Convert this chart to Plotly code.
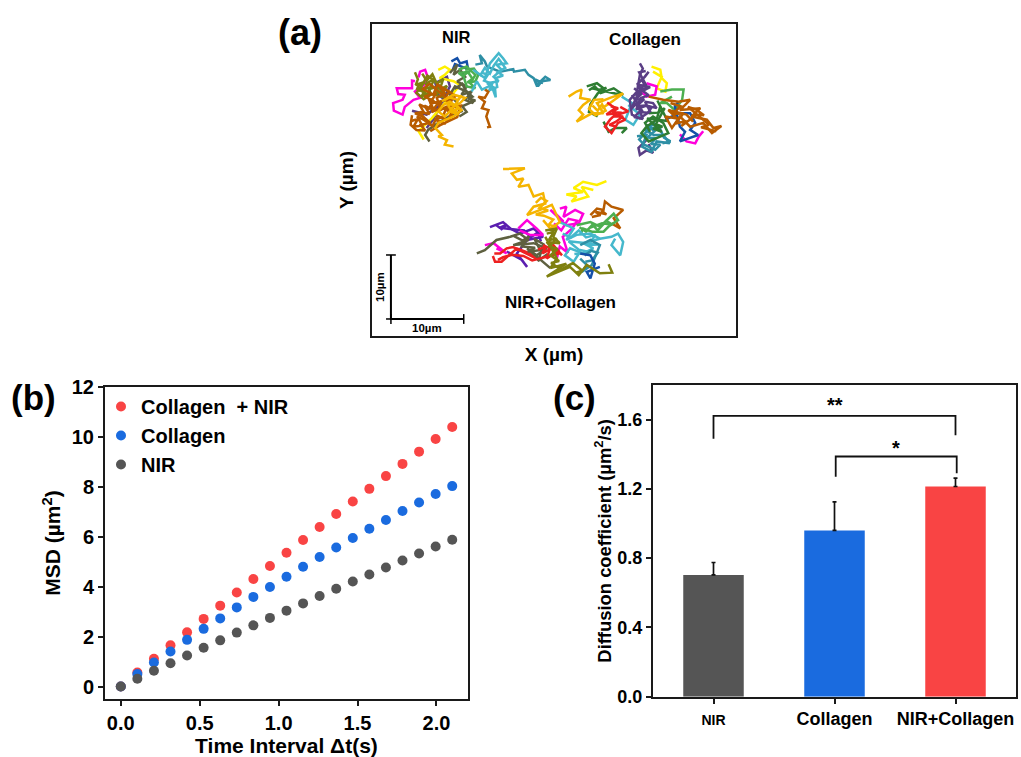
import plotly.graph_objects as go

W, H = 1021, 757
FONT = "Liberation Sans"
MAGENTA, OLIVE, BROWN, AMBER, DKOLIVE = "#FF00DC", "#7F8010", "#B85C00", "#F5B400", "#5E6040"
GREEN, DKGREEN, BLUE, PURPLE, GREYPURPLE = "#4CAF50", "#2E7D32", "#1450A8", "#5B1FB0", "#5A3E85"
TEAL, CYAN, RED, YELLOW = "#2E8FA5", "#45B8CC", "#EE2020", "#FFF000"

# ---------- panel (a): trajectories in micrometres ----------
nir_magenta = [(5.9,39.8),(5.5,39.9),(5.5,38.7),(3.4,38.7),(3.6,37.8),(4.5,37.7),(4.2,36.9),(2.9,36.4),(3.0,35.2),(4.2,34.6),(4.5,35.8),(5.7,36.9),(6.6,37.2),(5.9,38.2),(7.1,39.2),(7.7,40.3),(7.3,41.6),(6.6,41.3),(6.4,40.4)]
nir_purple = [(5.5,35.2),(7.5,34.6),(9.1,35.9),(10.0,36.9),(9.1,37.7),(8.7,39.5),(10.3,40.5),(10.7,39.0),(8.4,33.8),(7.5,32.5)]
nir_yellow = [(9.1,41.6),(10.0,42.1),(10.7,41.6),(10.0,40.8),(9.3,40.3),(11.2,39.8),(12.1,39.2),(10.4,37.0),(8.2,34.0),(6.4,32.0),(7.1,30.7)]
nir_blue = [(10.9,42.9),(11.7,43.4),(12.1,42.6),(13.0,42.9),(13.2,41.7),(12.3,42.1),(11.4,42.5),(11.1,41.6)]
nir_dkolive = [(10.7,41.1),(11.7,42.4),(11.2,40.8),(12.1,41.6),(12.8,40.5),(11.7,39.8),(13.0,39.0),(12.3,37.7),(13.7,38.2),(12.8,36.9),(13.9,36.4),(13.0,38.2),(11.4,39.0),(10.7,37.7),(11.7,36.4),(12.3,35.1),(11.0,34.6),(9.1,33.3),(7.7,32.2),(7.3,31.4),(7.9,30.4)]
nir_dkolive2 = [(11.3,38.6),(12.4,39.4),(12.9,38.3),(13.8,37.4),(13.2,37.1),(14.2,36.8),(12.4,35.9),(13.0,35.0),(12.0,34.3)]
nir_olive = [(5.9,41.2),(6.3,40.1),(6.0,39.2),(7.2,39.7),(6.4,38.3),(7.5,38.9),(6.8,37.4),(8.0,38.1),(7.4,39.4),(8.6,40.2),(7.9,38.6),(9.2,39.0),(8.5,37.6),(9.7,38.4),(8.8,39.7),(7.6,40.7),(6.8,39.0),(6.1,38.0),(7.1,37.0),(8.2,37.8),(9.9,37.3)]
nir_olive2 = [(6.9,41.0),(7.5,39.9),(8.3,40.9),(8.9,39.4),(9.8,40.2),(9.3,38.5),(10.3,39.1),(9.6,37.8),(8.9,38.5),(8.1,39.2),(7.7,37.6),(7.0,38.3),(6.5,39.5),(6.2,38.6),(7.3,38.0)]
nir_brown = [(5.5,34.5),(5.3,33.0),(6.1,32.2),(7.3,32.1),(6.7,33.0),(8.0,33.3),(7.0,34.3),(5.9,34.8),(7.1,35.0),(6.5,36.2),(7.8,35.5),(8.4,36.8),(7.2,37.4),(8.8,38.0),(8.0,36.3),(9.5,36.7),(9.1,35.1),(10.3,35.9),(9.7,34.2),(8.6,33.8),(10.0,33.2),(11.0,34.5),(10.4,36.4),(11.5,37.5),(10.1,38.5),(9.0,39.3),(8.4,37.7),(7.0,38.6),(7.9,39.4),(9.8,37.6),(11.0,35.7),(12.2,36.0),(11.7,34.2),(9.3,32.9),(8.0,32.0)]
nir_brown2 = [(15.5,38.5),(16.0,38.2),(15.5,37.2),(14.6,37.4),(15.5,36.6),(15.1,35.6),(16.0,35.3),(15.7,34.3),(16.2,32.7),(15.8,32.6)]
nir_brown3 = [(5.4,33.6),(6.3,33.9),(5.7,32.7),(6.9,32.9),(6.2,34.3),(7.4,33.6),(6.6,35.0),(7.9,34.7),(7.2,36.0),(8.5,35.3),(7.8,37.0),(9.0,36.3),(8.2,35.0),(9.4,35.6),(8.9,37.2),(10.0,37.9),(9.3,38.9),(10.6,38.2),(9.9,36.8),(11.0,37.0),(10.3,35.1),(11.3,36.2),(10.5,33.7),(9.0,34.4),(8.3,32.8),(7.1,33.8)]
nir_amber = [(10.0,36.9),(11.2,37.7),(12.8,37.2),(12.1,36.4),(10.9,35.6),(11.9,34.6),(10.7,35.1),(10.0,34.3),(9.1,35.1),(9.8,36.1),(10.7,36.6),(12.3,35.3),(11.2,34.3),(9.1,33.3),(8.7,32.5),(9.6,31.4),(9.1,31.2),(10.3,30.6),(10.0,29.9),(11.2,29.6)]
nir_amber2 = [(9.6,36.7),(10.6,37.3),(11.8,36.9),(12.3,37.6),(11.4,36.1),(10.4,36.2),(11.0,35.0),(12.0,35.8),(11.2,34.8)]
nir_green = [(11.9,41.6),(13.0,42.1),(14.2,40.8),(13.5,39.5),(14.2,38.7),(13.0,39.0),(12.6,40.5),(11.9,41.1),(13.5,41.3)]
nir_green2 = [(12.4,40.6),(13.2,41.2),(13.8,40.2),(13.1,39.6),(14.2,39.8),(14.6,40.8),(14.0,41.8),(12.8,41.6)]
nir_teal = [(14.2,42.4),(15.1,42.6),(14.8,43.9),(15.5,42.9),(15.8,42.1),(17.6,41.3),(19.4,41.7),(19.5,41.3),(21.0,41.6),(21.5,40.8),(22.2,40.3),(22.6,39.2),(23.8,40.5),(24.5,40.0),(23.3,39.8),(22.8,39.0),(22.4,40.1),(23.5,39.5)]
nir_cyan = [(13.9,41.6),(15.5,40.3),(16.2,42.6),(17.4,44.2),(18.0,43.4),(18.5,42.6),(17.1,42.4),(17.8,41.6),(16.7,40.5),(17.4,39.8),(15.8,39.5),(16.9,38.7),(17.0,37.3),(16.4,39.2),(15.1,38.5),(14.4,39.8),(13.7,38.2)]
nir_cyan2 = [(15.0,41.2),(15.9,40.8),(15.4,39.9),(16.5,39.4),(16.1,38.4),(17.2,38.9),(17.0,40.3),(18.0,40.7),(17.3,41.2),(18.3,41.9),(17.4,43.3),(16.7,42.2),(16.2,41.0),(15.5,41.9),(14.8,40.6)]

col_dkgreen = [(29.5,39.0),(30.9,39.5),(31.8,38.7),(31.3,37.9),(33.2,38.7),(34.5,37.7),(33.4,37.9),(32.0,38.2),(30.2,38.7)]
col_dkgreen5 = [(29.8,38.4),(30.6,39.0),(31.1,38.4),(32.2,38.8),(31.0,37.9),(30.0,36.2),(29.8,35.0),(31.0,34.3)]
col_amber = [(27.0,37.4),(28.1,38.2),(28.8,38.5),(28.6,37.2),(30.0,36.9),(29.0,36.1),(28.4,35.3),(29.0,34.6),(28.1,33.5),(30.2,34.8),(31.8,34.8),(30.9,36.4),(32.7,37.2),(34.5,37.9),(32.7,36.4),(31.6,35.6)]
col_amber2 = [(30.3,36.0),(31.0,35.2),(31.6,36.2),(32.1,35.2),(30.7,34.5),(29.8,35.5),(30.5,36.9),(31.8,37.0)]
col_dkgreen2 = [(31.8,33.5),(32.5,31.9),(33.4,32.5),(35.0,32.5),(34.3,31.7)]
col_red = [(32.3,36.5),(33.4,35.6),(32.2,34.6),(33.6,34.8),(32.7,33.8),(32.0,32.7),(32.9,31.7),(33.8,33.3),(34.8,33.8),(33.8,34.6),(35.2,35.1),(34.1,35.8)]
col_red2 = [(32.8,35.9),(33.8,35.6),(33.0,35.0),(34.3,34.9),(33.2,34.3),(34.5,34.3),(33.4,33.4),(32.6,33.0),(33.6,32.7)]
col_cyan = [(34.3,37.4),(35.7,36.4),(34.8,33.8),(35.9,33.0),(36.8,34.6),(35.2,36.1)]
col_yellow = [(38.4,42.1),(39.6,41.6),(39.8,40.3),(40.5,39.5),(40.3,38.2),(39.1,38.7),(39.8,40.5),(38.6,41.3)]
col_magenta = [(37.7,39.5),(39.1,39.0),(38.9,37.7),(37.7,37.4),(36.8,38.5)]
col_magenta2 = [(42.3,31.5),(43.2,30.4),(44.4,30.1),(44.9,31.2),(45.5,32.0)]
col_green = [(39.6,38.2),(41.2,38.5),(42.8,38.5),(42.6,36.9),(41.6,35.3),(40.5,36.4),(39.6,36.4),(41.2,37.4)]
col_teal = [(36.4,31.2),(37.7,31.4),(37.1,29.6),(38.4,28.8),(39.1,30.4),(40.9,30.1),(40.0,31.4),(38.7,31.4),(37.5,32.2),(38.9,33.3)]
col_teal2 = [(37.7,33.0),(38.8,32.0),(37.8,31.0),(39.0,30.9),(38.3,30.0),(39.6,29.9),(38.9,29.1),(37.4,29.9),(36.7,30.7),(38.0,32.3),(39.4,32.8),(40.1,31.0),(41.0,30.4),(39.9,30.1)]
col_greypurple2 = [(37.7,30.6),(36.6,29.4),(36.8,28.3),(37.7,29.0),(38.6,28.6),(38.0,30.0)]
col_dkgreen3 = [(39.6,35.9),(39.1,33.8),(37.7,32.7),(37.0,31.7),(38.0,30.4),(39.6,31.2),(40.7,31.7),(40.0,33.3),(38.6,34.3),(37.5,33.3),(38.2,31.9)]
col_dkgreen4 = [(38.0,34.8),(39.3,34.9),(40.2,35.6),(39.0,33.1),(39.9,32.7),(38.6,32.4),(39.8,31.9),(38.5,33.3),(37.8,34.0),(40.6,33.6),(39.2,36.8)]
col_blue = [(40.3,33.8),(42.1,34.8),(43.7,34.8),(44.4,33.3),(43.7,32.2),(44.8,31.4),(42.3,30.4),(43.0,31.9),(42.3,32.7),(41.6,35.9),(42.1,36.6)]
col_brown = [(38.0,37.4),(40.0,36.9),(42.1,36.6),(43.7,36.9),(42.3,35.3),(45.1,35.6),(43.9,34.3),(46.0,33.8),(46.9,32.5),(48.0,32.8),(46.7,31.7),(45.5,33.3),(43.7,32.7),(42.3,34.3),(41.2,32.5),(40.3,34.3),(41.9,34.0),(40.7,35.3),(43.2,34.6),(44.1,33.5)]
col_brown2 = [(41.0,36.4),(42.4,35.9),(41.3,34.7),(42.8,34.8),(41.7,33.2),(43.2,33.6),(42.5,32.8),(44.6,34.6),(45.6,34.5),(44.5,35.4),(43.4,35.8),(46.3,33.0),(45.2,32.6),(47.3,32.0)]
col_greypurple = [(36.8,42.6),(37.2,41.8),(36.8,40.8),(36.6,39.5),(36.4,38.2),(35.4,36.9),(35.7,34.6),(36.8,34.0),(38.2,35.1),(37.5,36.6),(38.6,36.4),(39.1,35.6),(37.7,36.0),(36.3,35.4),(36.9,37.2),(38.0,37.6),(36.5,38.9),(37.7,38.5),(37.1,40.0),(38.0,41.3),(37.5,40.5),(36.4,39.3),(38.2,38.9),(35.8,37.5),(37.2,35.0)]
col_greypurple3 = [(36.0,38.7),(37.0,37.8),(36.1,36.9),(37.4,37.0),(36.3,35.9),(37.5,36.0),(38.4,35.7),(37.9,34.9),(36.7,35.0),(36.0,34.2),(37.2,33.9),(36.4,36.4),(35.6,35.5),(36.9,38.7),(37.6,39.3),(36.7,41.2),(37.6,41.4)]

both_purple = [(16.2,17.0),(18.0,17.8),(19.0,16.8),(20.3,16.0),(22.2,16.8),(23.5,15.5),(21.3,15.0),(19.9,12.9),(21.3,10.8),(20.6,11.9),(18.5,13.2)]
both_purple2 = [(17.0,17.4),(17.8,16.7),(18.5,17.4),(17.5,16.9),(20.9,16.5),(21.8,15.4),(22.8,16.2),(23.2,14.8)]
both_magenta2 = [(20.1,16.8),(21.3,18.1),(22.6,16.8),(23.5,15.8),(21.7,15.8),(20.3,16.5)]
both_magenta3 = [(15.5,14.2),(16.7,14.5),(18.5,12.9),(17.1,13.7)]
both_magenta4 = [(25.0,17.6),(26.0,16.5),(27.0,18.3),(28.2,18.0),(27.5,16.8),(26.2,15.5),(26.9,13.0),(25.8,14.0),(25.4,12.2)]
both_red = [(16.8,12.9),(17.6,12.9),(18.5,13.7),(19.4,13.9),(22.6,12.1),(21.7,12.9),(19.9,13.7),(17.8,11.6),(16.9,11.6),(16.6,12.5)]
both_red2 = [(23.5,14.2),(25.4,13.2),(24.0,12.1),(24.7,14.5),(26.1,12.6)]
both_red3 = [(22.8,13.5),(23.9,14.0),(23.4,12.9),(25.0,13.9),(25.7,12.9),(24.7,12.6),(22.0,11.8),(20.8,12.5),(19.2,12.7),(18.0,12.3),(17.3,11.9)]
both_dkolive = [(14.4,12.9),(15.5,13.4),(17.1,15.0),(19.0,15.5),(20.3,16.0),(21.5,15.0),(19.4,14.2),(22.2,14.5),(24.0,13.7),(22.6,12.6),(21.3,13.7),(23.5,11.6),(24.5,10.6)]
both_dkolive2 = [(19.5,15.6),(20.7,14.9),(21.6,15.6),(20.6,14.0),(22.4,13.8),(21.4,13.2),(23.1,13.4),(22.3,15.2),(23.6,14.3),(22.8,11.7),(24.1,12.8)]
both_yellow = [(32.2,24.2),(30.9,23.6),(29.0,24.1),(27.7,23.1),(29.0,22.5),(26.7,22.1),(28.1,21.8),(27.4,21.0),(29.7,21.8),(28.8,23.3),(30.4,22.8)]
both_magenta = [(25.8,19.9),(26.7,20.2),(26.3,18.6),(27.9,19.7),(29.0,19.1),(28.4,17.6),(26.7,17.3),(24.5,19.7),(25.4,18.9),(26.3,17.9)]
both_brown = [(30.0,18.9),(30.9,19.9),(31.8,19.7),(32.0,21.0),(32.9,20.2),(34.5,19.7),(33.2,18.4),(34.1,16.8),(32.9,17.6)]
both_brown2 = [(30.2,18.6),(31.4,18.9),(30.7,19.4),(32.2,19.0),(31.5,19.6)]
both_green = [(28.1,17.3),(30.0,17.8),(31.3,17.1),(33.2,19.1),(33.8,18.1),(32.5,17.1),(31.8,16.3),(30.2,16.3),(29.0,16.8),(28.6,15.8)]
both_green2 = [(28.5,17.0),(29.4,16.3),(30.3,17.4),(31.0,16.5),(32.2,18.0),(33.0,17.4),(31.6,17.6),(29.9,16.9)]
both_cyan = [(25.8,17.8),(27.7,16.8),(26.7,15.0),(28.1,15.8),(30.0,16.0),(31.3,15.2),(29.0,14.5),(30.4,13.7),(29.0,12.9),(27.2,13.7),(26.5,12.6),(27.7,11.6),(28.6,13.2)]
both_cyan2 = [(31.3,15.2),(32.9,15.5),(33.8,16.0),(34.5,14.7),(34.1,12.6),(32.9,14.2),(33.4,15.2)]
both_cyan3 = [(26.2,16.0),(27.3,15.4),(28.4,16.5),(29.4,15.4),(30.7,15.8),(29.7,14.2),(31.1,14.3),(28.1,14.7),(27.0,14.8),(28.4,13.5),(30.0,13.1),(27.8,12.8)]
both_teal = [(28.6,12.1),(29.5,11.1),(28.8,10.0),(30.2,11.1),(31.3,14.2),(30.0,15.0),(28.6,14.2)]
both_teal2 = [(29.2,12.6),(30.1,13.3),(31.0,13.0),(30.2,11.8),(29.3,11.6)]
both_blue = [(28.6,12.9),(30.0,12.6),(30.6,11.3),(30.0,9.0),(29.5,10.0),(31.3,10.8)]
both_amber = [(18.0,26.1),(21.0,26.2),(19.2,25.4),(19.9,24.4),(20.8,24.6),(20.1,23.3),(21.5,23.6),(22.2,21.8),(23.5,22.3),(23.8,20.7),(22.2,20.2),(21.3,18.9),(23.1,19.7),(24.7,20.5),(25.8,17.8),(24.5,16.8),(23.5,18.1)]
both_amber2 = [(22.5,20.8),(23.2,21.6),(24.0,21.1),(23.0,20.0),(24.2,19.6),(22.5,19.0),(23.6,18.8),(24.9,18.2),(24.3,17.4),(25.4,17.0)]
both_olive = [(23.8,16.5),(25.4,16.8),(24.9,15.5),(25.8,14.5),(24.0,14.7),(24.9,13.4),(23.8,15.5),(25.4,12.1),(24.5,10.6),(26.7,11.3),(24.0,9.3),(27.2,10.8),(28.4,9.5),(29.5,11.1),(31.3,9.8),(33.0,9.9),(32.5,11.2)]
both_olive2 = [(24.0,16.0),(25.0,16.3),(24.3,15.0),(25.4,15.2),(24.4,14.0),(25.5,13.6),(24.5,12.6),(25.7,11.7),(24.6,11.4),(26.0,10.4),(27.6,11.4),(28.9,10.2),(28.0,9.9)]

tracks = [
    (nir_purple, GREYPURPLE), (nir_yellow, YELLOW), (nir_magenta, MAGENTA), (nir_blue, BLUE), (nir_dkolive, DKOLIVE), (nir_dkolive2, DKOLIVE),
    (nir_olive, OLIVE), (nir_olive2, OLIVE), (nir_brown, BROWN), (nir_brown2, BROWN), (nir_brown3, BROWN), (nir_amber, AMBER), (nir_amber2, AMBER),
    (nir_green, GREEN), (nir_green2, GREEN), (nir_teal, TEAL), (nir_cyan, CYAN), (nir_cyan2, CYAN),
    (col_dkgreen, DKGREEN), (col_dkgreen5, DKGREEN), (col_amber, AMBER), (col_amber2, AMBER), (col_dkgreen2, DKGREEN), (col_cyan, CYAN), (col_red, RED), (col_red2, RED),
    (col_yellow, YELLOW), (col_magenta, MAGENTA), (col_magenta2, MAGENTA), (col_green, GREEN), (col_greypurple2, GREYPURPLE),
    (col_teal, TEAL), (col_teal2, TEAL), (col_dkgreen3, DKGREEN), (col_dkgreen4, DKGREEN), (col_blue, BLUE), (col_brown, BROWN), (col_brown2, BROWN),
    (col_greypurple, GREYPURPLE), (col_greypurple3, GREYPURPLE),
    (both_purple, PURPLE), (both_purple2, PURPLE), (both_magenta2, MAGENTA), (both_magenta3, MAGENTA), (both_red, RED), (both_dkolive, DKOLIVE), (both_dkolive2, DKOLIVE),
    (both_yellow, YELLOW), (both_magenta, MAGENTA), (both_magenta4, MAGENTA), (both_red2, RED), (both_red3, RED), (both_brown, BROWN), (both_brown2, BROWN),
    (both_green, GREEN), (both_green2, GREEN), (both_cyan, CYAN), (both_cyan2, CYAN), (both_cyan3, CYAN), (both_teal, TEAL), (both_teal2, TEAL), (both_blue, BLUE),
    (both_amber, AMBER), (both_amber2, AMBER), (both_olive, OLIVE), (both_olive2, OLIVE),
]
scale_x = [2.6, 2.6, 12.6]
scale_y = [12.66, 2.66, 2.66]

# ---------- panel (b) ----------
dt = [0, 0.105, 0.21, 0.315, 0.42, 0.525, 0.63, 0.735, 0.84, 0.945, 1.05, 1.155, 1.26, 1.365, 1.47, 1.575, 1.68, 1.785, 1.89, 1.995, 2.1]
msd_both = [0, 0.56, 1.11, 1.65, 2.17, 2.71, 3.24, 3.77, 4.31, 4.83, 5.36, 5.87, 6.39, 6.91, 7.41, 7.92, 8.43, 8.92, 9.41, 9.92, 10.4]
msd_collagen = [0, 0.50, 0.96, 1.40, 1.87, 2.31, 2.73, 3.17, 3.59, 3.99, 4.40, 4.80, 5.19, 5.57, 5.95, 6.32, 6.67, 7.03, 7.37, 7.71, 8.03]
msd_nir = [0, 0.31, 0.63, 0.93, 1.24, 1.55, 1.85, 2.16, 2.45, 2.75, 3.04, 3.33, 3.63, 3.92, 4.21, 4.49, 4.77, 5.05, 5.33, 5.61, 5.88]

# ---------- panel (c) ----------
groups = [1, 2, 3]
group_labels = ["<span style='font-size:14px'>NIR</span>", "Collagen", "NIR+Collagen"]
diffusion = [0.703, 0.96, 1.214]
diffusion_err = [0.072, 0.165, 0.048]
bar_colors = ["#555555", "#1A6BDF", "#F94444"]
bracket_long_x = [1.0, 1.0, 3.0, 3.0]
bracket_long_y = [1.49, 1.622, 1.622, 1.51]
bracket_short_x = [2.01, 2.01, 3.01, 3.01]
bracket_short_y = [1.27, 1.387, 1.387, 1.29]


def px(x):
    return x / W


def py(y):
    return 1 - y / H


fig = go.Figure()
for pts, color in tracks:
    fig.add_trace(go.Scatter(x=[p[0] for p in pts], y=[p[1] for p in pts], mode="lines", xaxis="x", yaxis="y",
                             line=dict(color=color, width=2.5), showlegend=False, hoverinfo="skip"))
fig.add_trace(go.Scatter(x=scale_x, y=scale_y, mode="lines+markers", xaxis="x", yaxis="y", showlegend=False,
                         line=dict(color="black", width=2),
                         marker=dict(symbol=["line-ew", "line-ew", "line-ns"], size=7, color="black",
                                     line=dict(color="black", width=1.5))))
fig.add_trace(go.Scatter(x=[2.6], y=[2.66], mode="markers", xaxis="x", yaxis="y", showlegend=False,
                         marker=dict(symbol="line-ns", size=7, line=dict(color="black", width=1.5))))

for name, vals, color in [("Collagen\u00a0\u00a0+ NIR", msd_both, "#F94444"), ("Collagen", msd_collagen, "#1A6BDF"), ("NIR", msd_nir, "#555555")]:
    fig.add_trace(go.Scatter(x=dt, y=vals, mode="markers", name=name, xaxis="x2", yaxis="y2",
                             marker=dict(color=color, size=10)))

fig.add_trace(go.Bar(x=groups, y=diffusion, width=0.5, xaxis="x3", yaxis="y3", showlegend=False,
                     marker=dict(color=bar_colors, line=dict(width=0)),
                     error_y=dict(type="data", symmetric=False, array=diffusion_err, arrayminus=[0, 0, 0],
                                  color="#111111", thickness=1.7, width=2)))
for bx, by in [(bracket_long_x, bracket_long_y), (bracket_short_x, bracket_short_y)]:
    fig.add_trace(go.Scatter(x=bx, y=by, mode="lines", xaxis="x3", yaxis="y3", showlegend=False,
                             line=dict(color="#111111", width=1.8)))


def ann(text, x, y, size, angle=0):
    return dict(text=text, x=px(x), y=py(y), xref="paper", yref="paper", showarrow=False, textangle=angle,
                xanchor="center", yanchor="middle", font=dict(family=FONT, size=size, color="black", weight="bold"))


frame = dict(showline=True, mirror=True, linecolor="#1a1a1a", linewidth=2, zeroline=False, showgrid=False)
tickst = dict(ticks="outside", ticklen=5, tickwidth=2, tickcolor="#1a1a1a", automargin=False,
              tickfont=dict(family=FONT, size=20, color="black", weight="bold"))
tfont = dict(family=FONT, size=19, color="black", weight="bold")
tfont_b = dict(family=FONT, size=21, color="black", weight="bold")
tfont_c = dict(family=FONT, size=18.4, color="black", weight="bold")
tickst_c = {**tickst, "tickfont": dict(family=FONT, size=18, color="black", weight="bold")}

fig.update_layout(
    width=W, height=H, autosize=False, margin=dict(l=0, r=0, t=0, b=0),
    paper_bgcolor="white", plot_bgcolor="white", font=dict(family=FONT), bargap=0.5,
    xaxis=dict(domain=[px(372), px(736)], range=[0, 50], showticklabels=False, ticks="", anchor="y", automargin=False,
               title=dict(text="X (µm)", font=tfont, standoff=11), **frame),
    yaxis=dict(domain=[py(336), py(24)], range=[0, 48.75], showticklabels=False, ticks="", anchor="x", automargin=False,
               title=dict(text="Y (µm)", font=tfont, standoff=11), **frame),
    xaxis2=dict(domain=[px(105), px(468)], range=[-0.1, 2.2], tickvals=[0, 0.5, 1, 1.5, 2], ticktext=["0.0", "0.5", "1.0", "1.5", "2.0"],
                anchor="y2", title=dict(text="Time Interval Δt(s)", font=tfont_b, standoff=3), **frame, **tickst),
    yaxis2=dict(domain=[py(699), py(387)], range=[-0.5, 12], tickvals=[0, 2, 4, 6, 8, 10, 12],
                anchor="x2", title=dict(text="MSD (µm<sup>2</sup>)", font=tfont_b, standoff=5), **frame, **tickst),
    xaxis3=dict(domain=[px(653), px(1016)], range=[0.5, 3.5], tickvals=groups, ticktext=group_labels,
                anchor="y3", **frame, **tickst_c),
    yaxis3=dict(domain=[py(696.7), py(385)], range=[0, 1.8], tickvals=[0, 0.4, 0.8, 1.2, 1.6], ticktext=["0.0", "0.4", "0.8", "1.2", "1.6"],
                anchor="x3", title=dict(text="Diffusion coefficient (µm<sup>2</sup>/s)", font=tfont_c, standoff=1),
                **frame, **tickst_c),
    legend=dict(x=px(101), y=py(387), xanchor="left", yanchor="top", bgcolor="rgba(0,0,0,0)", tracegroupgap=0,
                font=dict(family=FONT, size=20, color="black", weight="bold"), itemwidth=30),
    annotations=[
        ann("(a)", 300, 32, 36), ann("(b)", 33, 398, 35), ann("(c)", 574, 398, 35),
        ann("NIR", 456.7, 37.3, 16.5), ann("Collagen", 645, 39, 17), ann("NIR+Collagen", 560, 302, 17),
        ann("10µm", 380, 287, 11.5, -90), ann("10µm", 427, 328, 11.5),
        ann("**", 835, 405, 20), ann("*", 896, 448, 20),
    ],
)

fig.write_html("out.html", config={"displayModeBar": False}, post_script="document.body.style.margin='0';")
